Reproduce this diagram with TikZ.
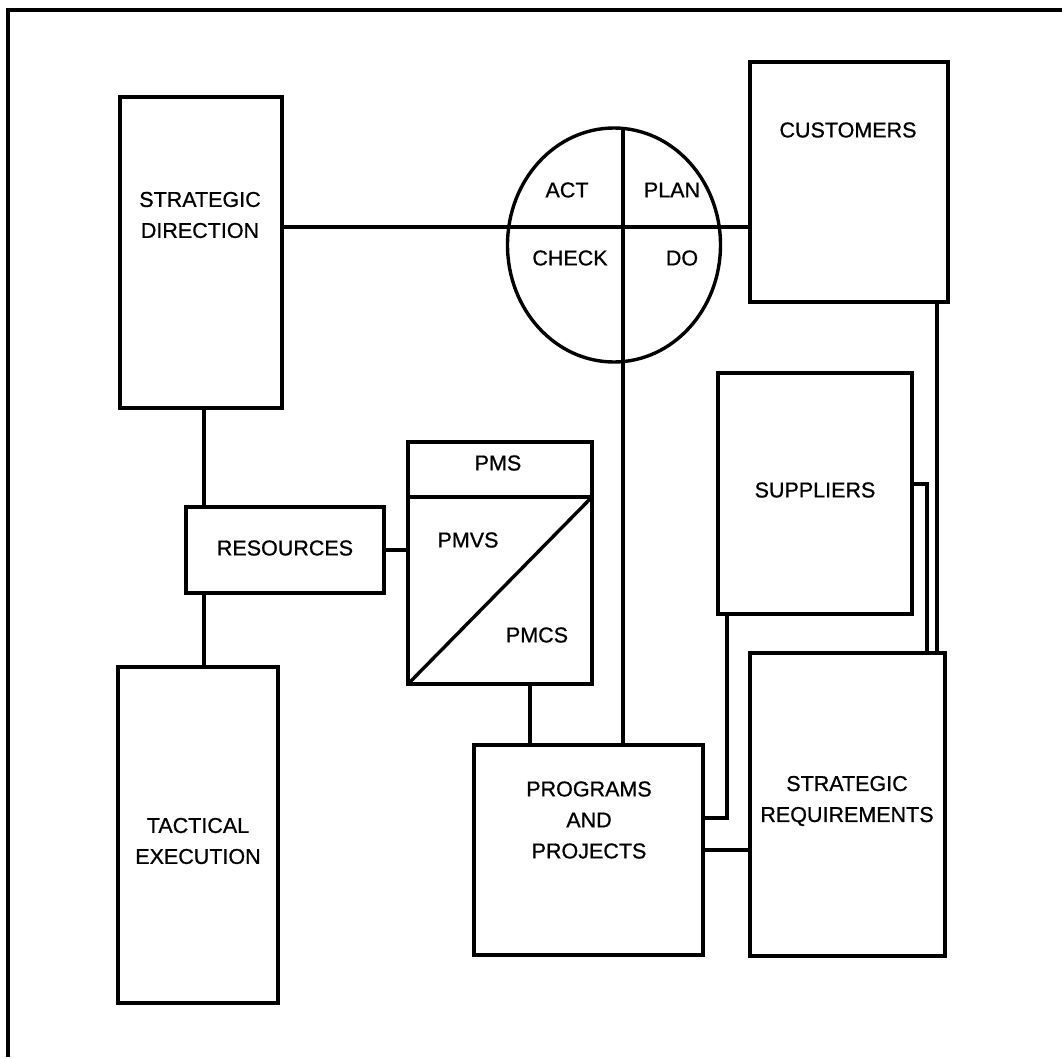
\documentclass[tikz,border=0pt]{standalone}
\usepackage{fontspec}
\setmainfont{Liberation Sans}[FakeBold=0.8]
\usetikzlibrary{shapes.geometric}
\begin{document}
\begin{tikzpicture}[x=1pt,y=-1pt,line width=3.4pt,
  box/.style={draw,line width=3.4pt,inner sep=0pt,outer sep=0pt,anchor=north west},
  lbl/.style={font=\fontsize{21.5}{31}\selectfont,align=center,inner sep=0pt},
  conn/.style={draw,line width=3.2pt}]
\useasboundingbox (0,0) rectangle (1062,1057);
\fill[white] (0,0) rectangle (1062,1057);
% frame (top and left edges)
\coordinate (ftl) at (8,10);
\coordinate (ftr) at (1062,10);
\coordinate (fbl) at (8,1057);
\draw[line width=4.5pt] (ftr) -- (ftl) -- (fbl);
% boxes
\node[box,minimum width=162pt,minimum height=311pt] (sd) at (120,97) {};
\node[lbl] (sdt) at (200,215) {STRATEGIC\\DIRECTION};
\node[box,minimum width=198pt,minimum height=86pt] (res) at (186,507) {};
\node[lbl] (rest) at (285,548) {RESOURCES};
\node[box,minimum width=160pt,minimum height=336pt] (te) at (118,667) {};
\node[lbl] (tet) at (198,841) {TACTICAL\\EXECUTION};
\node[box,minimum width=184pt,minimum height=242pt] (pms) at (408,442) {};
\coordinate (pmsdl) at (408,497);
\coordinate (pmsdr) at (592,497);
\draw (pmsdl) -- (pmsdr);
\draw (pmsdr) -- (pms.south west);
\node[lbl] (pmst) at (498,463) {PMS};
\node[lbl] (pmvst) at (468,540) {PMVS};
\node[lbl] (pmcst) at (537,635) {PMCS};
\node[box,minimum width=229pt,minimum height=210pt] (prog) at (474,745) {};
\node[lbl] (progt) at (589,820) {PROGRAMS\\AND\\PROJECTS};
\node[box,minimum width=198pt,minimum height=240pt] (cust) at (750,62) {};
\node[lbl] (custt) at (848,130) {CUSTOMERS};
\node[box,minimum width=194pt,minimum height=241pt] (sup) at (718,373) {};
\node[lbl] (supt) at (815,490) {SUPPLIERS};
\node[box,minimum width=195pt,minimum height=303pt] (sr) at (750,653) {};
\node[lbl] (srt) at (847,801) {STRATEGIC\\REQUIREMENTS};
% PDCA ellipse
\node[draw,ellipse,line width=3.4pt,minimum width=213pt,minimum height=234pt,inner sep=0pt] (pdca) at (614,245) {};
\node[lbl] (act) at (567,190) {ACT};
\node[lbl] (plan) at (672,190) {PLAN};
\node[lbl] (check) at (570,258) {CHECK};
\node[lbl] (do) at (682,258) {DO};
% connectors
\coordinate (hy) at (0,227);
\draw[conn] (sd.east |- hy) -- (cust.west |- hy);
\coordinate (vt) at (623,128.5);
\draw[conn] (vt) -- (vt |- prog.north);
\coordinate (sdx) at (204,0);
\draw[conn] (sd.south -| sdx) -- (res.north -| sdx);
\draw[conn] (res.south -| sdx) -- (te.north -| sdx);
\draw[conn] (res.east) -- (res.east -| pms.west);
\coordinate (pmx) at (530,0);
\draw[conn] (pms.south -| pmx) -- (prog.north -| pmx);
\coordinate (cx) at (937,0);
\draw[conn] (cust.south -| cx) -- (sr.north -| cx);
\coordinate (sy) at (927,484);
\draw[conn] (sup.east |- sy) -- (sy) -- (sy |- sr.north);
\coordinate (sbx) at (727,818);
\draw[conn] (sup.south -| sbx) -- (sbx) -- (sbx -| prog.east);
\coordinate (psy) at (0,850);
\draw[conn] (prog.east |- psy) -- (sr.west |- psy);
\end{tikzpicture}
\end{document}
